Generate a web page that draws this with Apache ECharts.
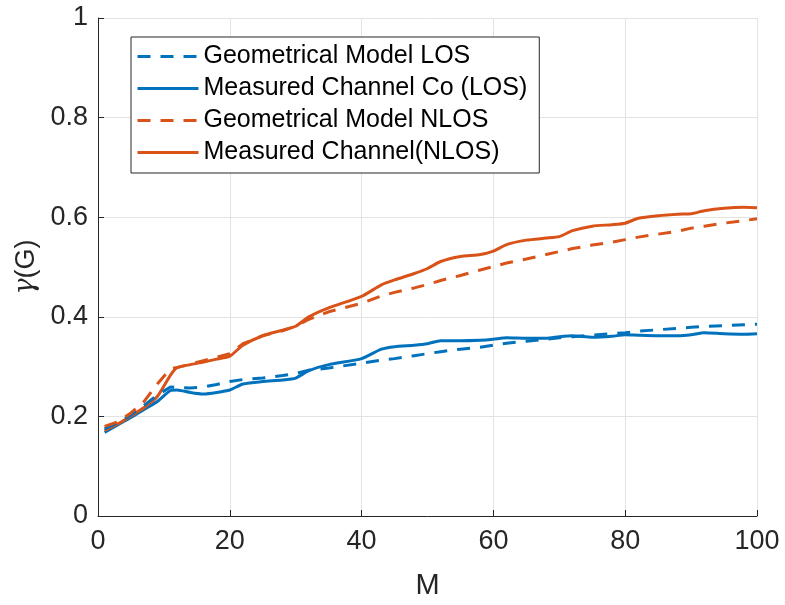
<!DOCTYPE html>
<html>
<head>
<meta charset="utf-8">
<script src="https://cdn.jsdelivr.net/npm/echarts@6/dist/echarts.min.js"></script>
<style>
  html, body { margin: 0; padding: 0; background: #fff; }
  #chart { width: 785px; height: 605px; }
</style>
</head>
<body>
<div id="chart"></div>
<script>
// sample points along M
const mValues = [1, 3, 5, 7, 9, 11, 12, 14, 16, 18, 20, 22, 25, 28, 30, 32, 35, 40, 43, 45, 48,
  50, 52, 55, 58, 60, 62, 65, 68, 70, 72, 75, 78, 80, 82, 85, 88, 90, 92, 95, 98, 100];

const geoLOS = [0.175, 0.187, 0.203, 0.222, 0.243, 0.259, 0.258, 0.257, 0.259, 0.264, 0.270,
  0.274, 0.277, 0.282, 0.286, 0.293, 0.297, 0.307, 0.313, 0.316, 0.322, 0.326, 0.330, 0.335,
  0.339, 0.343, 0.347, 0.351, 0.355, 0.358, 0.360, 0.363, 0.366, 0.368, 0.371, 0.374, 0.377,
  0.379, 0.381, 0.382, 0.384, 0.385];

const measLOS = [0.168, 0.183, 0.198, 0.214, 0.230, 0.252, 0.253, 0.248, 0.245, 0.248, 0.253,
  0.265, 0.270, 0.273, 0.277, 0.292, 0.304, 0.316, 0.335, 0.340, 0.343, 0.346, 0.352, 0.352,
  0.353, 0.355, 0.358, 0.357, 0.357, 0.360, 0.362, 0.359, 0.361, 0.364, 0.363, 0.362, 0.362,
  0.364, 0.368, 0.366, 0.365, 0.366];

const geoNLOS = [0.180, 0.189, 0.207, 0.230, 0.265, 0.296, 0.298, 0.305, 0.312, 0.319, 0.326,
  0.346, 0.362, 0.372, 0.381, 0.395, 0.410, 0.427, 0.442, 0.449, 0.458, 0.465, 0.473, 0.483,
  0.494, 0.501, 0.508, 0.516, 0.525, 0.531, 0.537, 0.544, 0.550, 0.555, 0.560, 0.566, 0.572,
  0.578, 0.582, 0.588, 0.593, 0.597];

const measNLOS = [0.172, 0.185, 0.201, 0.218, 0.240, 0.283, 0.298, 0.304, 0.309, 0.315, 0.321,
  0.343, 0.362, 0.373, 0.381, 0.400, 0.418, 0.441, 0.464, 0.474, 0.487, 0.497, 0.511, 0.521,
  0.525, 0.532, 0.545, 0.554, 0.558, 0.561, 0.573, 0.582, 0.585, 0.588, 0.598, 0.603, 0.606,
  0.607, 0.613, 0.618, 0.620, 0.619];

const seriesNames = ['Geometrical Model LOS', 'Measured Channel Co (LOS)',
  'Geometrical Model NLOS', 'Measured Channel(NLOS)'];

const BLUE = '#0072BD';
const ORANGE = '#D95319';
const FONT = 'Liberation Sans, Arial, sans-serif';

function pairs(ys) {
  return mValues.map((m, i) => [m, ys[i]]);
}

function lineSeries(name, ys, color, dashed) {
  return {
    name: name,
    type: 'line',
    data: pairs(ys),
    symbol: 'none',
    smooth: dashed ? false : 0.2,
    lineStyle: { color: color, width: 3, type: dashed ? [13, 10] : 'solid' },
    itemStyle: { color: color },
    z: dashed ? 3 : 2
  };
}

const chart = echarts.init(document.getElementById('chart'), null, { renderer: 'canvas' });

chart.setOption({
  animation: false,
  backgroundColor: '#fff',
  grid: { left: 98, right: 28, top: 18, bottom: 86, containLabel: false },
  legend: {
    orient: 'vertical',
    left: 131,
    top: 37,
    data: seriesNames,
    itemWidth: 61,
    itemHeight: 14,
    itemGap: 7,
    padding: [7, 12, 8, 5],
    borderColor: '#262626',
    borderWidth: 1,
    backgroundColor: '#fff',
    itemStyle: { opacity: 0 },
    lineStyle: { width: 3 },
    textStyle: { fontFamily: FONT, fontSize: 25, color: '#000', lineHeight: 25 }
  },
  xAxis: {
    type: 'value',
    min: 0,
    max: 100,
    interval: 20,
    name: 'M',
    nameLocation: 'middle',
    nameGap: 55,
    nameTextStyle: { fontFamily: FONT, fontSize: 29, color: '#262626' },
    axisLine: { show: true, lineStyle: { color: '#262626', width: 1 } },
    axisTick: { show: true, inside: true, length: 6, lineStyle: { color: '#262626' } },
    axisLabel: { fontFamily: FONT, fontSize: 27, color: '#262626', margin: 12 },
    splitLine: { show: true, lineStyle: { color: '#e3e3e3', width: 1 } }
  },
  yAxis: {
    type: 'value',
    min: 0,
    max: 1,
    interval: 0.2,
    name: '{g|γ}(G)',
    nameLocation: 'middle',
    nameGap: 52,
    nameTextStyle: {
      fontFamily: FONT, fontSize: 27, color: '#262626',
      rich: { g: { fontFamily: 'DejaVu Serif, serif', fontStyle: 'italic', fontSize: 27, color: '#262626' } }
    },
    axisLine: { show: true, lineStyle: { color: '#262626', width: 1 } },
    axisTick: { show: true, inside: true, length: 6, lineStyle: { color: '#262626' } },
    axisLabel: { fontFamily: FONT, fontSize: 27, color: '#262626', margin: 10 },
    splitLine: { show: true, lineStyle: { color: '#e3e3e3', width: 1 } }
  },
  series: [
    lineSeries(seriesNames[0], geoLOS, BLUE, true),
    lineSeries(seriesNames[1], measLOS, BLUE, false),
    lineSeries(seriesNames[2], geoNLOS, ORANGE, true),
    lineSeries(seriesNames[3], measNLOS, ORANGE, false)
  ]
});
</script>
</body>
</html>
